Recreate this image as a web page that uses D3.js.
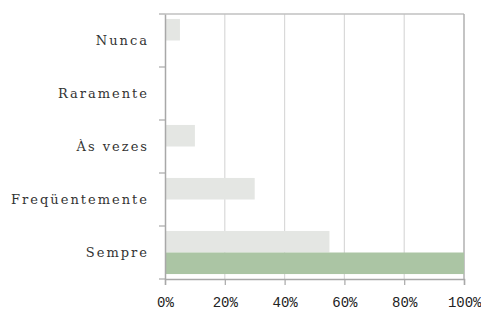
<!DOCTYPE html>
<html>
<head>
<meta charset="utf-8">
<script src="https://cdn.jsdelivr.net/npm/d3@7"></script>
<style>
  body { margin: 0; background: #fff; }
</style>
</head>
<body>
<svg id="chart" width="481" height="311"></svg>
<script>
const categories = ["Nunca", "Raramente", "Às vezes", "Freqüentemente", "Sempre"];
const seriesNames = ["s1", "s2"];
const grayValues = [5, 0, 10, 30, 55];
const greenValues = [0, 0, 0, 0, 100];
const xTicks = [0, 20, 40, 60, 80, 100];

const svg = d3.select("#chart");
const plotLeft = 165, plotRight = 464, plotTop = 14, plotBottom = 279;

const xScale = d3.scaleLinear().domain([0, 100]).range([plotLeft, plotRight]);
const yScale = d3.scaleBand().domain(categories).range([plotTop, plotBottom]);
const inner = d3.scaleBand().domain(seriesNames).range([0, yScale.bandwidth()]).paddingOuter(0.23).paddingInner(0);

// gridlines
svg.append("g")
  .selectAll("line")
  .data(xTicks.slice(1, -1))
  .enter()
  .append("line")
  .attr("x1", d => xScale(d)).attr("x2", d => xScale(d))
  .attr("y1", plotTop).attr("y2", plotBottom)
  .attr("stroke", "#d9d9d9").attr("stroke-width", 1.2);

// border top/right
svg.append("line").attr("x1", plotLeft).attr("x2", plotRight).attr("y1", plotTop).attr("y2", plotTop)
  .attr("stroke", "#c0c0c0").attr("stroke-width", 1.5);
svg.append("line").attr("x1", plotRight).attr("x2", plotRight).attr("y1", plotTop).attr("y2", plotBottom)
  .attr("stroke", "#b0b0b0").attr("stroke-width", 1.5);

const rows = categories.map((c, i) => ({cat: c, gray: grayValues[i], green: greenValues[i]}));

svg.append("g").selectAll("rect")
  .data(rows)
  .enter()
  .append("rect")
  .attr("x", xScale(0))
  .attr("y", d => yScale(d.cat) + inner("s1"))
  .attr("width", d => xScale(d.gray) - xScale(0))
  .attr("height", inner.bandwidth())
  .attr("fill", "#e4e6e3");

svg.append("g").selectAll("rect")
  .data(rows)
  .enter()
  .append("rect")
  .attr("x", xScale(0))
  .attr("y", d => yScale(d.cat) + inner("s2"))
  .attr("width", d => xScale(d.green) - xScale(0))
  .attr("height", inner.bandwidth())
  .attr("fill", "#abc5a4");

// x axis
const xAxis = d3.axisBottom(xScale).tickValues(xTicks).tickFormat(d => d + "%").tickSize(6).tickPadding(12);
const xg = svg.append("g").attr("transform", `translate(0,${plotBottom})`).call(xAxis);
xg.select(".domain").attr("stroke", "#a8a8a8").attr("stroke-width", 1.5);
xg.selectAll(".tick line").attr("stroke", "#a8a8a8").attr("stroke-width", 1.2);
xg.selectAll("text")
  .attr("font-family", "'Liberation Mono', monospace")
  .attr("font-size", 14)
  .attr("fill", "#222");
// keep the last label inside the window
xg.selectAll(".tick text").filter(d => d === 100).attr("text-anchor", "end").attr("x", 481 - plotRight);

// y axis
const yAxis = d3.axisLeft(yScale).tickSize(0).tickPadding(16);
const yg = svg.append("g").attr("transform", `translate(${plotLeft},0)`).call(yAxis);
yg.select(".domain").attr("stroke", "#a8a8a8").attr("stroke-width", 1.5);
yg.selectAll("text")
  .attr("font-family", "'DejaVu Serif', serif")
  .attr("font-size", 13)
  .attr("letter-spacing", "2px")
  .attr("fill", "#333");

// category separators
svg.append("g").selectAll("line")
  .data(categories.map(c => yScale(c)).concat([plotBottom]))
  .enter()
  .append("line")
  .attr("x1", plotLeft - 6).attr("x2", plotLeft)
  .attr("y1", d => d).attr("y2", d => d)
  .attr("stroke", "#a8a8a8").attr("stroke-width", 1.2);
</script>
</body>
</html>
